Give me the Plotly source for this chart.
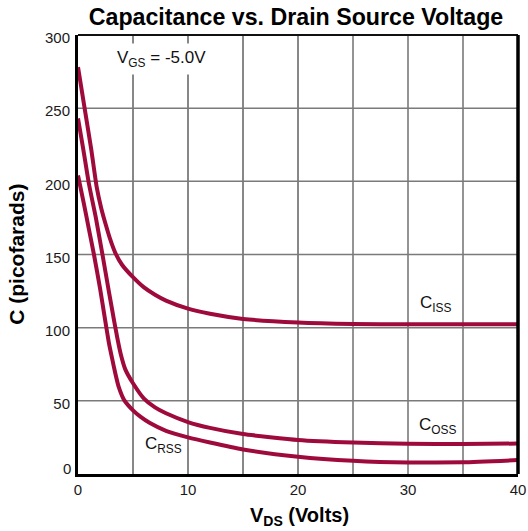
import plotly.graph_objects as go

# Capacitance curves (pF) versus drain-source voltage (V), VGS = -5.0 V
vds_ciss = [0, 0.6, 1.2, 1.7, 2.1, 2.5, 2.9, 3.4, 4, 5, 6, 7, 8, 10, 12, 15, 20, 25, 30, 35, 40]
ciss = [278, 250, 222, 196, 182, 171, 161, 151, 143, 134.5, 127.5, 122.5, 118.5, 113, 109.5, 106,
        103.5, 102.5, 102.3, 102.3, 102.3]

vds_coss = [0, 0.5, 1, 1.6, 2.2, 2.8, 3.3, 3.6, 3.9, 4.3, 5, 6, 7, 8, 10, 12, 15, 20, 25, 30, 35, 40]
coss = [243, 221, 198, 176, 151, 125, 104, 92, 81.5, 71.5, 62, 51.5, 45.5, 41.5, 35.5, 31.5, 27.3,
        23.3, 21.5, 20.6, 20.5, 20.8]

vds_crss = [0, 0.5, 1, 1.45, 2, 2.45, 2.8, 3.1, 3.4, 3.7, 4.2, 5, 5.7, 6.5, 8, 10, 12, 15, 20,
            25, 30, 35, 40]
crss = [204, 186, 167, 150, 127, 106, 90, 79, 68.5, 59.5, 50.5, 43.5, 39, 35, 29.5, 25, 21.5,
        16.8, 11.8, 9, 7.8, 8, 9.5]

x_ticks = [0, 10, 20, 30, 40]
y_ticks = [0, 50, 100, 150, 200, 250, 300]
grid_x_dark = [5, 10, 15, 20]
grid_x_light = [25, 30, 35]
grid_y = [50, 100, 150, 200, 250]

CURVE = "#9F0A3C"
FONT = "Liberation Sans, Arial, Helvetica, sans-serif"
TICK_COLOR = "#1a1a1a"

fig = go.Figure()
for xs, ys in [(vds_ciss, ciss), (vds_coss, coss), (vds_crss, crss)]:
    fig.add_trace(go.Scatter(x=xs, y=ys, mode="lines",
                             line=dict(color=CURVE, width=4, shape="spline", smoothing=0.5),
                             hoverinfo="skip"))

shapes = []
for gx in grid_x_dark:
    shapes.append(dict(type="line", xref="x", yref="paper", x0=gx, x1=gx, y0=0, y1=1,
                       line=dict(color="#111111", width=1), layer="below"))
for gx in grid_x_light:
    shapes.append(dict(type="line", xref="x", yref="paper", x0=gx, x1=gx, y0=0, y1=1,
                       line=dict(color="#707070", width=1.5), layer="below"))
for gy in grid_y:
    shapes.append(dict(type="line", xref="paper", yref="y", x0=0, x1=1, y0=gy, y1=gy,
                       line=dict(color="#7a7a7a", width=1.5), layer="below"))
# frame: top and right edges
shapes.append(dict(type="line", xref="paper", yref="paper", x0=0, x1=1, y0=1, y1=1,
                   line=dict(color="#111111", width=2)))
shapes.append(dict(type="line", xref="paper", yref="paper", x0=1, x1=1, y0=0, y1=1,
                   line=dict(color="#000000", width=3.5)))

label_font = dict(family=FONT, size=17, color="#111111")
annotations = [
    dict(text="V<sub>GS</sub> = -5.0V", x=3.1, y=283.5, xref="x", yref="y", xanchor="left",
         yanchor="middle", showarrow=False, bgcolor="white", borderpad=4, font=label_font),
    dict(text="C<sub>ISS</sub>", x=30.9, y=116.5, xref="x", yref="y", xanchor="left",
         yanchor="middle", showarrow=False, font=label_font),
    dict(text="C<sub>OSS</sub>", x=30.8, y=32.5, xref="x", yref="y", xanchor="left",
         yanchor="middle", showarrow=False, font=label_font),
    dict(text="C<sub>RSS</sub>", x=5.9, y=19.5, xref="x", yref="y", xanchor="left",
         yanchor="middle", showarrow=False, font=label_font),
    # the zero of the C axis sits just above the V axis line
    dict(text=str(y_ticks[0]), x=0, y=y_ticks[0], xref="x", yref="y", xanchor="right",
         yanchor="middle", xshift=-5, yshift=5.5, showarrow=False,
         font=dict(family=FONT, size=15, color=TICK_COLOR)),
    dict(text="C (picofarads)", x=-0.1386, y=0.4994, xref="paper", yref="paper",
         textangle=-90, xanchor="center", yanchor="middle", showarrow=False,
         font=dict(family=FONT, size=21, color="#000000", weight="bold")),
    dict(text="V<sub>DS</sub> (Volts)", x=0.5045, y=-0.097, xref="paper", yref="paper",
         xanchor="center", yanchor="middle", showarrow=False,
         font=dict(family=FONT, size=20, color="#000000", weight="bold")),
]

fig.update_layout(
    width=528, height=531,
    margin=dict(l=78, r=10, t=35, b=57, pad=0),
    paper_bgcolor="white", plot_bgcolor="white",
    showlegend=False,
    title=dict(text="<b>Capacitance vs. Drain Source Voltage</b>", x=296 / 528, xref="container",
               xanchor="center", y=1 - 16.5 / 531, yref="container", yanchor="middle",
               font=dict(family=FONT, size=23.2, color="#000000")),
    xaxis=dict(range=[0, 40], tickvals=x_ticks, ticktext=[str(v) for v in x_ticks],
               showgrid=False, zeroline=False, showline=True, linewidth=3, linecolor="#000000",
               ticks="", automargin=False,
               tickfont=dict(family=FONT, size=15, color=TICK_COLOR), fixedrange=True),
    yaxis=dict(range=[0, 300], tickvals=y_ticks,
               ticktext=[""] + [str(v) for v in y_ticks[1:]],
               showgrid=False, zeroline=False, showline=True, linewidth=3, linecolor="#000000",
               ticks="", automargin=False, ticklabelshift=3, ticklabelstandoff=2,
               tickfont=dict(family=FONT, size=15, color=TICK_COLOR), fixedrange=True),
    shapes=shapes,
    annotations=annotations,
)

fig.write_html("out.html")
